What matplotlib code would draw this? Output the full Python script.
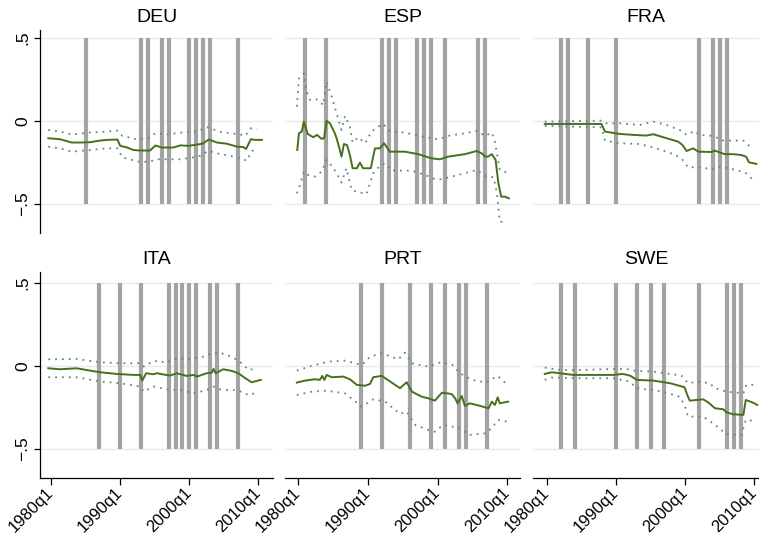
import matplotlib.pyplot as plt

plt.rcParams['font.family'] = ['Liberation Sans', 'DejaVu Sans']

countries = ["DEU", "ESP", "FRA", "ITA", "PRT", "SWE"]

# quarters marked by the grey bars
deu_bars = [1985, 1993, 1994, 1996, 1997, 2000, 2001, 2002, 2003, 2007]
esp_bars = [1981, 1984, 1992, 1993, 1994, 1997, 1998, 1999, 2001, 2005.75, 2006.75]
fra_bars = [1982, 1983, 1986, 1990, 2002, 2004, 2005, 2006]
ita_bars = [1987, 1990, 1993, 1997, 1998, 1999, 2000, 2001, 2003, 2004, 2007]
prt_bars = [1989, 1992, 1996, 1999, 2001, 2003, 2004, 2007]
swe_bars = [1982, 1984, 1990, 1993, 1995, 1997, 2002, 2006, 2007, 2008]

# (date, value) pairs: estimate, upper and lower bound
deu_mid = [(1979.6, -0.104), (1981.3, -0.11), (1983.0, -0.13), (1984.2, -0.13), (1985.6, -0.128),
           (1987.1, -0.118), (1988.1, -0.114), (1989.6, -0.112), (1990.0, -0.15), (1991.0, -0.16),
           (1991.9, -0.175), (1992.9, -0.178), (1994.3, -0.178), (1995.1, -0.148), (1996.0, -0.16),
           (1997.7, -0.16), (1998.7, -0.147), (1999.9, -0.15), (2001.6, -0.139), (2002.0, -0.135),
           (2002.8, -0.112), (2004.0, -0.13), (2005.4, -0.137), (2006.9, -0.155), (2007.8, -0.157),
           (2008.2, -0.169), (2008.9, -0.11), (2009.5, -0.114), (2010.5, -0.114)]
deu_hi = [(1979.6, -0.054), (1981.3, -0.064), (1983.0, -0.082), (1985.6, -0.07), (1988.1, -0.064),
          (1989.6, -0.058), (1990.3, -0.09), (1992.3, -0.11), (1994.0, -0.104), (1995.1, -0.074),
          (1996.7, -0.082), (1998.7, -0.07), (2000.6, -0.066), (2001.6, -0.054), (2002.6, -0.038),
          (2004.5, -0.066), (2007.4, -0.082), (2008.1, -0.09), (2008.9, -0.044), (2009.8, -0.05)]
deu_lo = [(1979.6, -0.155), (1981.3, -0.165), (1983.0, -0.185), (1985.6, -0.175), (1988.1, -0.165),
          (1989.6, -0.165), (1990.3, -0.219), (1993.0, -0.249), (1994.3, -0.243), (1995.5, -0.231),
          (1998.7, -0.231), (2000.6, -0.219), (2001.6, -0.21), (2002.8, -0.179), (2004.0, -0.195),
          (2006.4, -0.215), (2008.3, -0.239), (2009.1, -0.179), (2009.9, -0.185)]

esp_mid = [(1979.86, -0.175), (1980.1, -0.074), (1980.5, -0.064), (1980.8, -0.004), (1981.35, -0.078),
           (1982.15, -0.098), (1982.7, -0.084), (1983.35, -0.108), (1983.7, -0.104), (1984.07, 0.0),
           (1984.55, -0.014), (1985.2, -0.07), (1985.5, -0.104), (1985.9, -0.165), (1986.2, -0.215),
           (1986.55, -0.139), (1987.0, -0.145), (1987.4, -0.205), (1987.8, -0.285), (1988.4, -0.285),
           (1988.85, -0.251), (1989.3, -0.285), (1990.4, -0.285), (1991.0, -0.165), (1991.7, -0.165),
           (1992.3, -0.134), (1992.7, -0.159), (1993.15, -0.185), (1995.3, -0.185), (1997.2, -0.2),
           (1999.1, -0.225), (2000.3, -0.231), (2001.5, -0.215), (2003.9, -0.2), (2005.6, -0.181),
           (2006.3, -0.195), (2006.8, -0.215), (2007.2, -0.215), (2007.75, -0.2), (2008.3, -0.235),
           (2008.7, -0.375), (2009.1, -0.456), (2009.65, -0.456), (2010.2, -0.466)]
esp_hi = [(1979.8, 0.086), (1980.1, 0.257), (1980.8, 0.287), (1981.2, 0.177), (1981.7, 0.127),
          (1982.6, 0.131), (1983.6, 0.096), (1984.07, 0.237), (1984.8, 0.146), (1985.7, 0.016),
          (1986.2, -0.054), (1986.7, 0.03), (1987.4, -0.034), (1987.8, -0.13), (1988.6, -0.098),
          (1989.6, -0.134), (1990.5, -0.064), (1991.5, -0.034), (1992.2, -0.018), (1993.15, -0.064),
          (1995.3, -0.07), (1998.2, -0.098), (2000.1, -0.11), (2001.5, -0.09), (2003.9, -0.074),
          (2005.6, -0.06), (2006.8, -0.09), (2007.75, -0.07), (2008.2, -0.125), (2008.9, -0.295),
          (2009.9, -0.311)]
esp_lo = [(1979.8, -0.436), (1980.25, -0.386), (1980.8, -0.305), (1981.4, -0.325), (1982.4, -0.335),
          (1983.35, -0.305), (1984.07, -0.235), (1984.8, -0.271), (1985.5, -0.315), (1986.2, -0.371),
          (1986.9, -0.285), (1987.65, -0.416), (1988.4, -0.426), (1989.8, -0.44), (1990.75, -0.315),
          (1991.7, -0.271), (1992.45, -0.255), (1993.4, -0.299), (1996.3, -0.299), (1998.2, -0.325),
          (1999.6, -0.351), (2000.6, -0.351), (2002.0, -0.335), (2003.9, -0.315), (2005.6, -0.295),
          (2006.8, -0.331), (2008.0, -0.339), (2008.5, -0.436), (2008.9, -0.607), (2009.75, -0.61)]

fra_mid = [(1979.7, -0.018), (1982.8, -0.018), (1987.9, -0.018), (1988.4, -0.064), (1990.5, -0.078),
           (1992.5, -0.084), (1994.4, -0.088), (1995.4, -0.08), (1997.3, -0.104), (1999.0, -0.125),
           (1999.6, -0.145), (2000.2, -0.181), (2001.15, -0.165), (2001.9, -0.185), (2003.8, -0.187),
           (2004.3, -0.179), (2005.7, -0.2), (2006.9, -0.2), (2008.1, -0.205), (2008.8, -0.215),
           (2009.2, -0.249), (2010.3, -0.259)]
fra_hi = [(1979.7, -0.004), (1987.9, 0.002), (1988.4, -0.014), (1990.5, -0.014), (1993.4, -0.024),
          (1995.4, -0.004), (1997.3, -0.024), (1999.2, -0.054), (2000.2, -0.084), (2001.4, -0.06),
          (2002.0, -0.084), (2004.0, -0.09), (2005.5, -0.118), (2008.4, -0.118), (2009.8, -0.171)]
fra_lo = [(1979.7, -0.03), (1987.9, -0.038), (1988.4, -0.118), (1990.5, -0.134), (1993.4, -0.139),
          (1995.4, -0.159), (1998.25, -0.199), (1999.45, -0.225), (2000.4, -0.279), (2002.0, -0.279),
          (2004.0, -0.291), (2005.0, -0.275), (2007.4, -0.295), (2008.8, -0.315), (2009.8, -0.355)]

ita_mid = [(1979.6, -0.014), (1981.3, -0.02), (1983.7, -0.014), (1985.6, -0.028), (1987.1, -0.038),
           (1989.5, -0.048), (1991.9, -0.054), (1992.9, -0.054), (1993.2, -0.088), (1993.75, -0.044),
           (1994.8, -0.05), (1995.3, -0.044), (1997.2, -0.058), (1998.2, -0.044), (1999.6, -0.06),
           (2000.6, -0.054), (2001.1, -0.064), (2002.5, -0.044), (2003.25, -0.04), (2003.5, -0.018),
           (2003.8, -0.044), (2004.9, -0.02), (2006.15, -0.03), (2007.1, -0.044), (2008.1, -0.074),
           (2009.0, -0.098), (2010.35, -0.084)]
ita_hi = [(1979.6, 0.04), (1983.7, 0.042), (1987.1, 0.022), (1990.0, 0.016), (1992.9, 0.016),
          (1993.4, -0.004), (1994.8, 0.03), (1996.75, 0.022), (1998.2, 0.046), (2000.1, 0.042),
          (2002.0, 0.056), (2003.5, 0.08), (2004.7, 0.076), (2006.15, 0.056), (2007.6, 0.016),
          (2008.55, -0.024), (2009.8, -0.014)]
ita_lo = [(1979.6, -0.068), (1983.7, -0.068), (1987.1, -0.094), (1990.0, -0.104), (1992.9, -0.124),
          (1993.4, -0.155), (1994.8, -0.124), (1997.2, -0.145), (1998.7, -0.145), (2000.6, -0.165),
          (2002.5, -0.145), (2003.5, -0.124), (2004.7, -0.145), (2006.9, -0.145), (2008.55, -0.175),
          (2009.8, -0.161)]

prt_mid = [(1979.8, -0.1), (1981.0, -0.088), (1982.4, -0.08), (1983.1, -0.084), (1983.45, -0.06),
           (1983.75, -0.084), (1984.07, -0.054), (1984.8, -0.068), (1986.45, -0.064), (1987.4, -0.08),
           (1988.4, -0.114), (1989.6, -0.119), (1990.3, -0.108), (1990.75, -0.068), (1991.97, -0.06),
           (1993.4, -0.1), (1994.6, -0.134), (1995.55, -0.098), (1996.3, -0.155), (1997.7, -0.185),
           (1998.65, -0.195), (1999.6, -0.209), (2000.6, -0.161), (2002.0, -0.169), (2002.5, -0.195),
           (2002.85, -0.225), (2003.45, -0.181), (2003.9, -0.241), (2004.6, -0.225), (2006.1, -0.241),
           (2007.3, -0.255), (2007.75, -0.215), (2008.2, -0.235), (2008.6, -0.189), (2008.9, -0.225),
           (2010.1, -0.215)]
prt_hi = [(1979.8, -0.028), (1981.9, 0.0), (1984.3, 0.026), (1986.7, 0.032), (1989.1, 0.006),
          (1990.3, 0.056), (1991.97, 0.076), (1994.35, 0.04), (1995.3, 0.08), (1996.3, 0.016),
          (1998.65, -0.004), (2000.3, 0.02), (2002.0, 0.012), (2002.95, -0.034), (2003.9, -0.064),
          (2005.35, -0.088), (2007.0, -0.1), (2008.0, -0.074), (2008.6, -0.06), (2009.65, -0.1)]
prt_lo = [(1979.8, -0.175), (1981.9, -0.155), (1984.07, -0.149), (1986.7, -0.165), (1989.1, -0.245),
          (1990.75, -0.201), (1992.45, -0.215), (1994.6, -0.289), (1995.55, -0.275), (1996.75, -0.355),
          (1998.65, -0.386), (1999.6, -0.396), (2000.8, -0.355), (2002.5, -0.369), (2003.45, -0.381),
          (2004.4, -0.416), (2006.8, -0.406), (2007.75, -0.375), (2008.6, -0.325), (2009.9, -0.335)]

swe_mid = [(1979.7, -0.048), (1980.7, -0.038), (1981.9, -0.044), (1983.8, -0.054), (1987.65, -0.054),
           (1989.6, -0.054), (1991.0, -0.048), (1992.0, -0.058), (1993.05, -0.084), (1995.35, -0.088),
           (1997.8, -0.104), (1999.9, -0.128), (2000.3, -0.175), (2000.65, -0.209), (2002.6, -0.201),
           (2003.3, -0.219), (2004.3, -0.255), (2005.5, -0.261), (2005.95, -0.279), (2006.9, -0.291),
           (2008.4, -0.295), (2008.75, -0.205), (2009.8, -0.221), (2010.4, -0.235)]
swe_hi = [(1979.7, -0.01), (1981.9, -0.024), (1985.2, -0.024), (1989.6, -0.018), (1991.5, -0.018),
          (1992.5, -0.028), (1995.35, -0.034), (1999.45, -0.058), (2000.4, -0.104), (2001.9, -0.094),
          (2003.55, -0.104), (2004.3, -0.134), (2005.95, -0.155), (2008.4, -0.165), (2008.85, -0.114),
          (2010.05, -0.114)]
swe_lo = [(1979.7, -0.084), (1980.7, -0.07), (1985.2, -0.074), (1989.6, -0.074), (1992.0, -0.094),
          (1992.95, -0.134), (1996.3, -0.151), (1999.2, -0.185), (1999.9, -0.235), (2000.4, -0.305),
          (2002.6, -0.305), (2004.3, -0.355), (2005.95, -0.41), (2008.1, -0.416), (2008.75, -0.325),
          (2010.05, -0.331)]

panels = [
    (deu_mid, deu_hi, deu_lo, deu_bars),
    (esp_mid, esp_hi, esp_lo, esp_bars),
    (fra_mid, fra_hi, fra_lo, fra_bars),
    (ita_mid, ita_hi, ita_lo, ita_bars),
    (prt_mid, prt_hi, prt_lo, prt_bars),
    (swe_mid, swe_hi, swe_lo, swe_bars),
]

xticks = [1980, 1990, 2000, 2010]
xticklabels = ["1980q1", "1990q1", "2000q1", "2010q1"]
yticks = [-0.5, 0, 0.5]
yticklabels = ["\u2212.5", "0", ".5"]

W, H = 759, 537
fig = plt.figure(figsize=(W / 100, H / 100), dpi=100)

# pixel layout of the plot regions: (left, width, xlim) and (top, height, ylim)
cols = [(40, 233, (1978.4, 2012.1)), (285, 235, (1978.1, 2011.8)), (533, 226, (1978.0, 2010.66))]
rows = [(30, 203, (-0.675, 0.548)), (272, 206, (-0.675, 0.566))]

green = '#46701e'
band = '#5f8985'
grey = '#a3a3a3'
grid = '#e3eded'

for i, (name, (mid, hi, lo, bars)) in enumerate(zip(countries, panels)):
    r, c = divmod(i, 3)
    left, width, xlim = cols[c]
    top, height, ylim = rows[r]
    ax = fig.add_axes([left / W, 1 - (top + height) / H, width / W, height / H])

    for y in yticks:
        ax.axhline(y, color=grid, lw=1.0, zorder=0)
    ax.vlines(bars, -0.5, 0.5, color=grey, lw=3.0, capstyle='butt', zorder=1)

    for s in (hi, lo):
        ax.plot([p[0] for p in s], [p[1] for p in s], color=band, lw=1.3,
                linestyle=(0, (1, 2.8)), zorder=2)
    ax.plot([p[0] for p in mid], [p[1] for p in mid], color=green, lw=1.4, zorder=3)

    ax.set_xlim(*xlim)
    ax.set_ylim(*ylim)
    ax.set_title(name, fontsize=14, pad=6)

    for sp in ('top', 'right'):
        ax.spines[sp].set_visible(False)
    ax.spines['left'].set_visible(c == 0)
    ax.spines['bottom'].set_visible(r == 1)
    for sp in ax.spines.values():
        sp.set_linewidth(0.9)

    if c == 0:
        ax.set_yticks(yticks)
        ax.set_yticklabels(yticklabels, rotation=90, va='center', fontsize=12.5)
        ax.tick_params(axis='y', length=4, width=0.9, pad=3)
    else:
        ax.set_yticks([])

    if r == 1:
        ax.set_xticks(xticks)
        ax.set_xticklabels(xticklabels, rotation=45, ha='right', va='center',
                           rotation_mode='anchor', fontsize=12)
        ax.tick_params(axis='x', length=5, width=0.9, pad=4)
    else:
        ax.set_xticks([])

fig.savefig('out.png', dpi=100)
